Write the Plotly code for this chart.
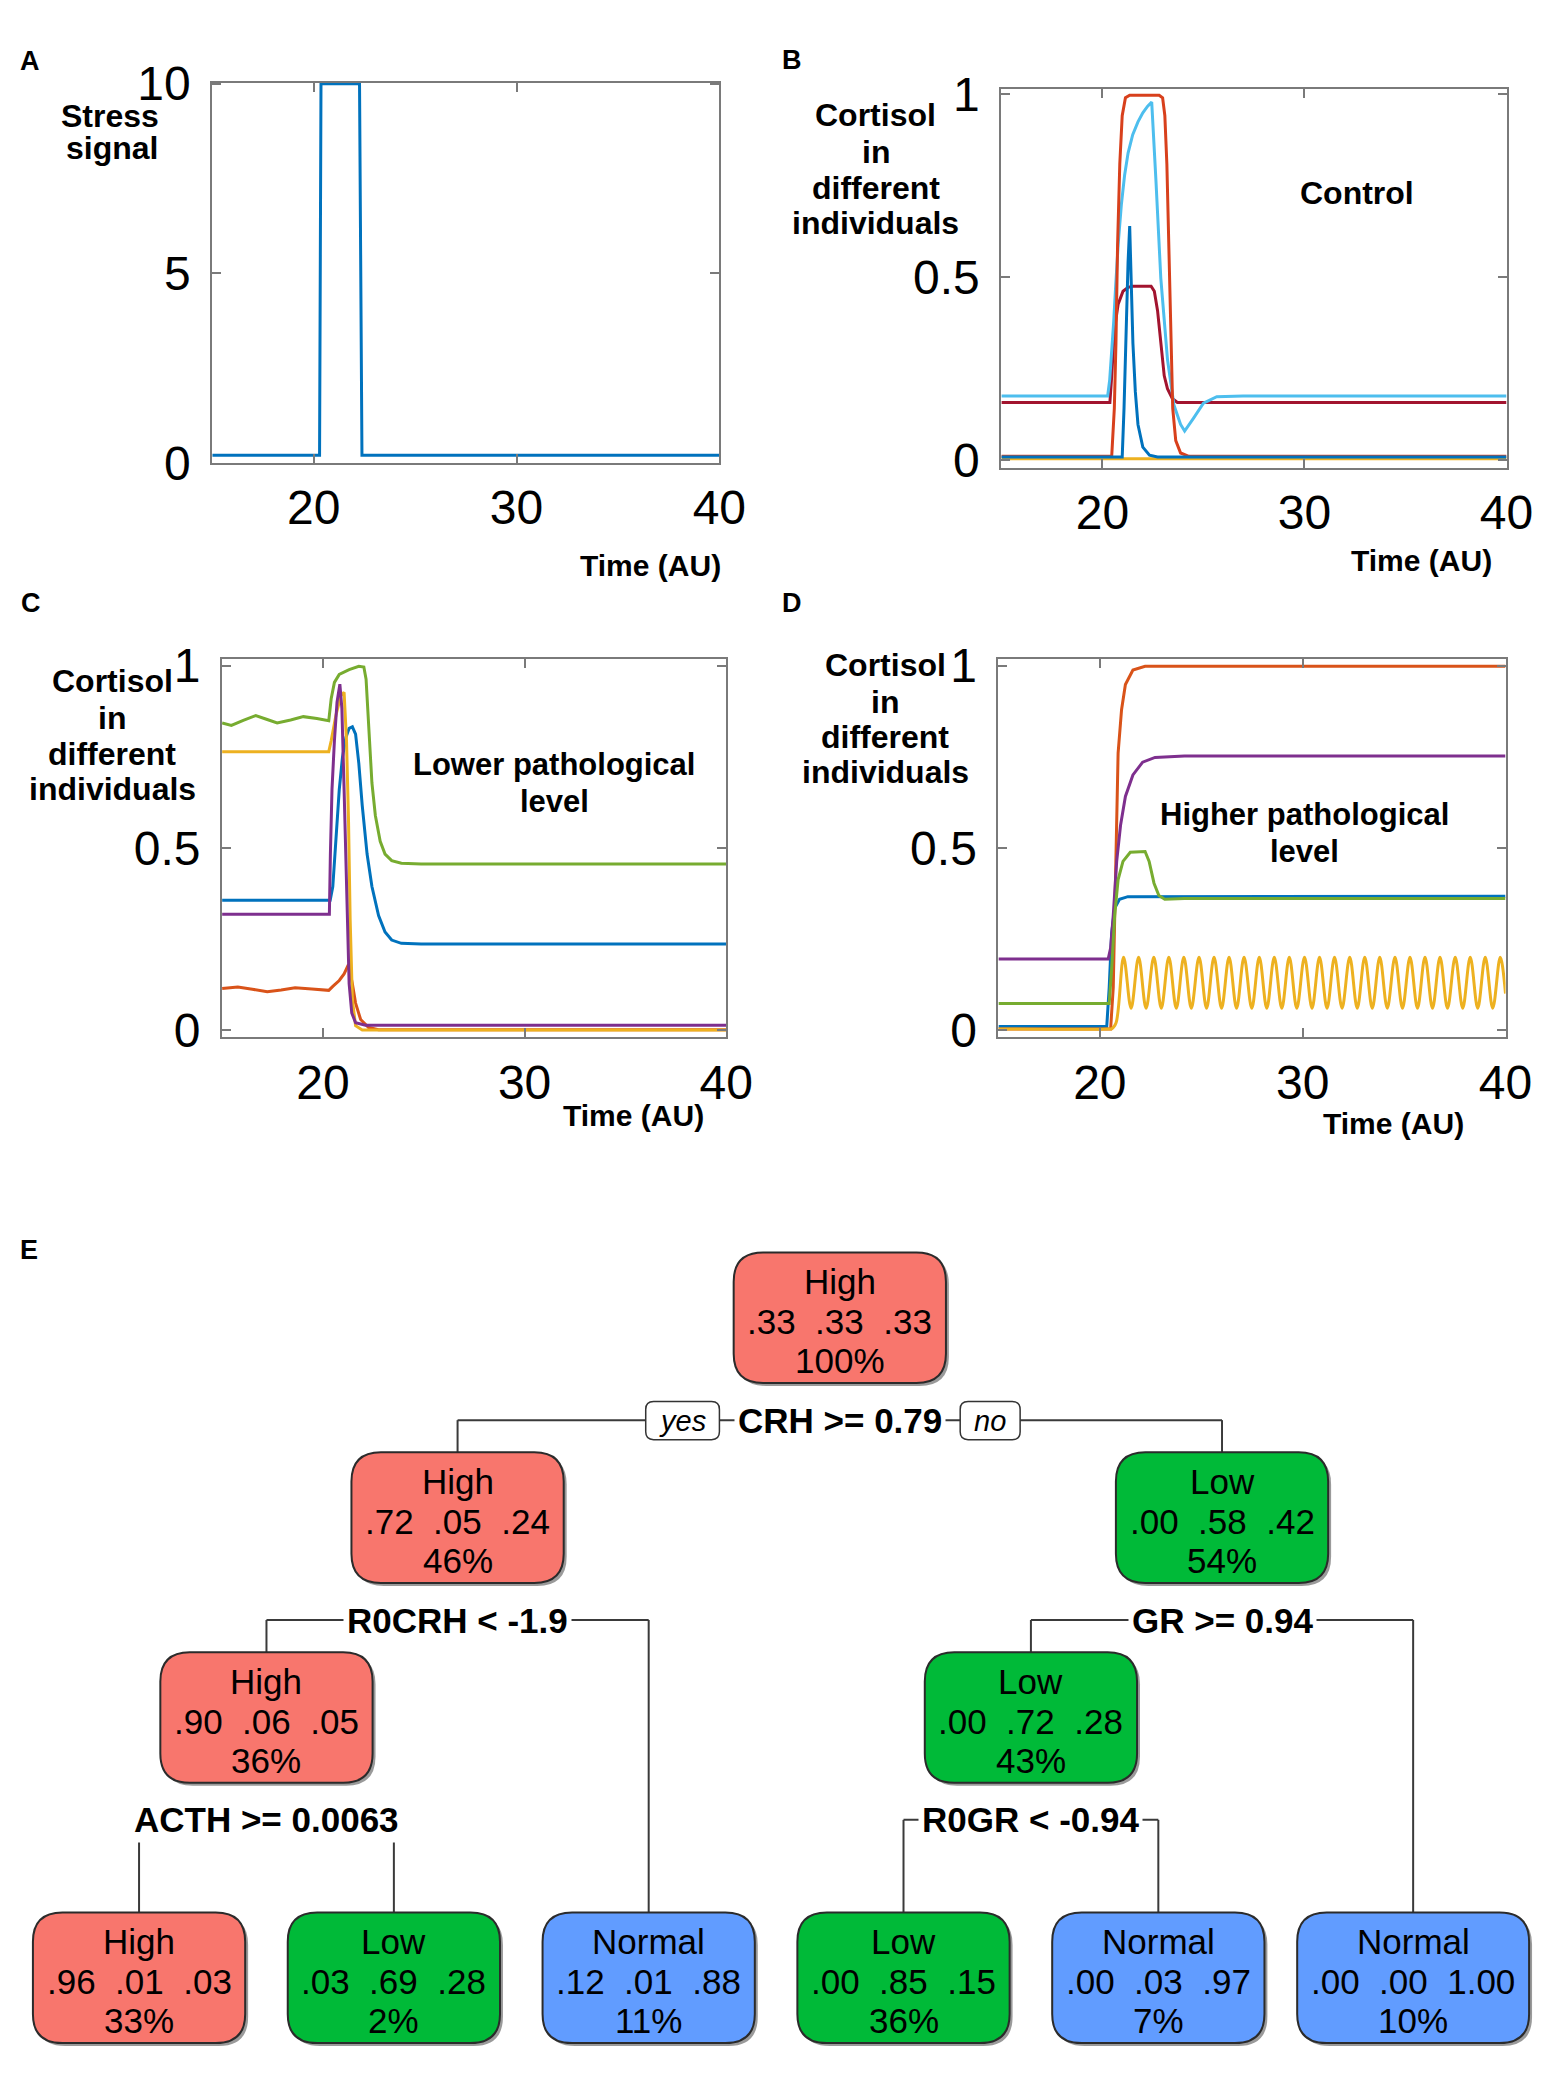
import plotly.graph_objects as go

W, H = 1562, 2075
FONT = "Liberation Sans, Arial, Helvetica, sans-serif"

# ---------------- data ----------------
time_ticks = [20, 30, 40]
a_ticks = [0, 5, 10]
c_ticks = [0, 0.5, 1]
c_ticklabels = ["0", "0.5", "1"]

# Panel A: stress signal
a_t = [15, 20.29, 20.36, 22.26, 22.38, 40]
a_stress = [0.2, 0.2, 10, 10, 0.2, 0.2]

# Panel B: control
b_darkred_t = [15, 20.37, 20.46, 20.59, 20.78, 21.02, 21.27, 21.51, 22.41, 22.57, 22.73, 22.89, 23.06, 23.22, 23.46, 23.71, 40]
b_darkred_v = [0.158, 0.158, 0.231, 0.356, 0.427, 0.462, 0.473, 0.476, 0.476, 0.462, 0.409, 0.32, 0.231, 0.196, 0.169, 0.158, 0.158]
b_cyan_t = [15, 20.26, 20.36, 20.46, 20.56, 20.66, 20.78, 20.94, 21.1, 21.27, 21.5, 21.76, 22.0, 22.24, 22.44,
            22.65, 22.89, 23.22, 23.54, 23.87, 24.07, 24.52, 25.0, 25.66, 26.96, 40]
b_cyan_v = [0.176, 0.176, 0.22, 0.29, 0.38, 0.48, 0.59, 0.70, 0.78, 0.84, 0.89, 0.925, 0.95, 0.968, 0.979,
            0.764, 0.498, 0.276, 0.151, 0.098, 0.080, 0.116, 0.156, 0.174, 0.176, 0.176]
b_red_t = [15, 20.46, 20.59, 20.67, 20.75, 20.86, 20.98, 21.14, 21.35, 22.81, 22.98, 23.09, 23.19, 23.28, 23.38, 23.48, 23.63, 23.87, 24.28, 40]
b_red_v = [0.011, 0.011, 0.142, 0.32, 0.587, 0.81, 0.942, 0.991, 0.998, 0.998, 0.991, 0.942, 0.81, 0.587, 0.32, 0.142, 0.054, 0.020, 0.011, 0.011]
b_yellow_t = [15, 40]
b_yellow_v = [0.004, 0.004]
b_blue_t = [15, 20.98, 21.07, 21.19, 21.27, 21.35, 21.43, 21.51, 21.63, 21.76, 22.0, 22.33, 22.73, 40]
b_blue_v = [0.009, 0.009, 0.142, 0.409, 0.542, 0.64, 0.498, 0.32, 0.187, 0.098, 0.036, 0.014, 0.009, 0.009]

# Panel C: lower pathological level
c_blue_t = [15, 20.36, 20.49, 20.65, 20.81, 20.97, 21.14, 21.30, 21.46, 21.62, 21.78, 21.95, 22.19, 22.43, 22.76, 23.08, 23.41, 23.89, 24.87, 40]
c_blue_v = [0.356, 0.356, 0.394, 0.527, 0.66, 0.749, 0.803, 0.828, 0.832, 0.812, 0.732, 0.616, 0.483, 0.394, 0.314, 0.269, 0.247, 0.238, 0.236, 0.236]
c_red_t = [15, 15.78, 16.5, 17.24, 17.93, 18.62, 19.45, 20.29, 20.49, 20.81, 21.05, 21.27, 21.46, 21.62, 21.87, 22.27, 22.76, 40]
c_red_v = [0.114, 0.118, 0.112, 0.105, 0.11, 0.116, 0.113, 0.109, 0.12, 0.136, 0.154, 0.18, 0.127, 0.074, 0.029, 0.007, 0.001, 0.001]
c_yellow_t = [15, 20.29, 20.41, 20.65, 20.89, 21.05, 21.17, 21.27, 21.35, 21.46, 21.62, 21.95, 40]
c_yellow_v = [0.764, 0.764, 0.794, 0.865, 0.918, 0.927, 0.794, 0.572, 0.305, 0.083, 0.012, 0.0, 0.0]
c_purple_t = [15, 20.32, 20.37, 20.45, 20.57, 20.70, 20.84, 20.94, 21.05, 21.14, 21.22, 21.30, 21.43, 21.62, 22.11, 40]
c_purple_v = [0.318, 0.318, 0.483, 0.66, 0.794, 0.9, 0.949, 0.883, 0.66, 0.438, 0.26, 0.127, 0.047, 0.02, 0.013, 0.013]
c_green_t = [15, 15.46, 16.05, 16.67, 17.2, 17.73, 18.4, 19.03, 19.7, 20.29, 20.41, 20.57, 20.81, 21.30, 21.78, 22.03, 22.14, 22.27, 22.43, 22.6, 22.84, 23.08, 23.41, 23.89, 24.87, 40]
c_green_v = [0.843, 0.836, 0.85, 0.863, 0.853, 0.843, 0.851, 0.86, 0.855, 0.849, 0.909, 0.954, 0.976, 0.989, 0.998, 0.996, 0.963, 0.838, 0.678, 0.589, 0.518, 0.483, 0.465, 0.458, 0.456, 0.456]

# Panel D: higher pathological level
d_blue_t = [15, 20.34, 20.46, 20.58, 20.73, 20.97, 21.38, 40]
d_blue_v = [0.01, 0.01, 0.116, 0.265, 0.334, 0.359, 0.366, 0.367]
d_red_t = [15, 20.53, 20.66, 20.78, 20.9, 21.07, 21.26, 21.63, 22.23, 40]
d_red_v = [0.003, 0.003, 0.116, 0.463, 0.76, 0.879, 0.948, 0.988, 0.998, 0.998]
d_purple_t = [15, 20.41, 20.53, 20.66, 20.83, 21.02, 21.26, 21.63, 22.11, 22.72, 24.17, 40]
d_purple_v = [0.195, 0.195, 0.225, 0.314, 0.463, 0.562, 0.641, 0.7, 0.735, 0.748, 0.752, 0.752]
d_green_t = [15, 20.46, 20.58, 20.73, 20.9, 21.14, 21.5, 22.23, 22.43, 22.67, 22.91, 23.2, 24.17, 40]
d_green_v = [0.073, 0.073, 0.166, 0.314, 0.413, 0.463, 0.488, 0.49, 0.463, 0.403, 0.369, 0.359, 0.361, 0.361]
d_yellow_t = [15, 20.4, 20.6, 20.8,
              21.17, 21.54, 21.91, 22.28, 22.66, 23.03, 23.40, 23.77, 24.14, 24.51,
              24.89, 25.26, 25.63, 26.00, 26.37, 26.74, 27.11, 27.49, 27.86, 28.23,
              28.60, 28.97, 29.34, 29.71, 30.09, 30.46, 30.83, 31.20, 31.57, 31.94,
              32.32, 32.69, 33.06, 33.43, 33.80, 34.17, 34.55, 34.92, 35.29, 35.66,
              36.03, 36.40, 36.77, 37.14, 37.52, 37.89, 38.26, 38.63, 39.00, 39.37,
              39.74, 40]
d_yellow_v = [0.003, 0.003, 0.004, 0.02,
              0.2, 0.06, 0.2, 0.06, 0.2, 0.06, 0.2, 0.06, 0.2, 0.06,
              0.2, 0.06, 0.2, 0.06, 0.2, 0.06, 0.2, 0.06, 0.2, 0.06,
              0.2, 0.06, 0.2, 0.06, 0.2, 0.06, 0.2, 0.06, 0.2, 0.06,
              0.2, 0.06, 0.2, 0.06, 0.2, 0.06, 0.2, 0.06, 0.2, 0.06,
              0.2, 0.06, 0.2, 0.06, 0.2, 0.06, 0.2, 0.06, 0.2, 0.06,
              0.2, 0.1]

# Panel E: decision tree
node_class = ["High", "High", "Low", "High", "Low", "High", "Low", "Normal", "Low", "Normal", "Normal"]
node_probs = [[.33, .33, .33], [.72, .05, .24], [.00, .58, .42], [.90, .06, .05], [.00, .72, .28],
              [.96, .01, .03], [.03, .69, .28], [.12, .01, .88], [.00, .85, .15], [.00, .03, .97], [.00, .00, 1.00]]
node_pct = [100, 46, 54, 36, 43, 33, 2, 11, 36, 7, 10]
split_text = {0: "CRH >= 0.79", 1: "R0CRH < -1.9", 2: "GR >= 0.94", 3: "ACTH >= 0.0063", 4: "R0GR < -0.94"}
children = {0: (1, 2), 1: (3, 7), 2: (4, 10), 3: (5, 6), 4: (8, 9)}
leaf_order = [5, 6, 7, 8, 9, 10]

# ---------------- styles ----------------
C_BLUE, C_RED, C_YEL, C_PUR, C_GRN, C_CYAN, C_DRED = "#0072BD", "#D95319", "#EDB120", "#7E2F8E", "#77AC30", "#4DBEEE", "#A2142F"
C_RED_B = "#D8401C"
class_color = {"High": "#F8766D", "Low": "#00BA38", "Normal": "#619CFF"}
LW = 3


def px(x):
    return x / W


def py(y):
    return 1 - y / H


fig = go.Figure()


def add_line(t, v, color, ax, shape="linear"):
    fig.add_trace(go.Scatter(x=t, y=v, mode="lines", line=dict(color=color, width=LW, shape=shape),
                             xaxis="x" + ax, yaxis="y" + ax, showlegend=False, hoverinfo="skip"))


add_line(a_t, a_stress, C_BLUE, "")

add_line(b_darkred_t, b_darkred_v, C_DRED, "2")
add_line(b_cyan_t, b_cyan_v, C_CYAN, "2")
add_line(b_red_t, b_red_v, C_RED_B, "2")
add_line(b_yellow_t, b_yellow_v, C_YEL, "2")
add_line(b_blue_t, b_blue_v, C_BLUE, "2")

add_line(c_blue_t, c_blue_v, C_BLUE, "3")
add_line(c_red_t, c_red_v, C_RED, "3")
add_line(c_yellow_t, c_yellow_v, C_YEL, "3")
add_line(c_purple_t, c_purple_v, C_PUR, "3")
add_line(c_green_t, c_green_v, C_GRN, "3")

add_line(d_blue_t, d_blue_v, C_BLUE, "4")
add_line(d_red_t, d_red_v, C_RED, "4")
add_line(d_purple_t, d_purple_v, C_PUR, "4")
add_line(d_green_t, d_green_v, C_GRN, "4")
add_line(d_yellow_t, d_yellow_v, C_YEL, "4", shape="spline")

AXC = "#7a7a7a"
common = dict(showgrid=False, zeroline=False, showline=True, linecolor=AXC, linewidth=2,
              mirror="ticks", ticks="inside", ticklen=9, tickwidth=1.5, tickcolor=AXC,
              tickfont=dict(family=FONT, size=48, color="black"), fixedrange=True)


def xaxis(x0, x1, anchor):
    return dict(common, domain=[px(x0), px(x1)], range=[15, 40], tickvals=time_ticks,
                ticktext=[str(t) for t in time_ticks], anchor=anchor, ticklabelstandoff=2)


def yaxis(top, bottom, rng, vals, texts, anchor):
    return dict(common, domain=[py(bottom), py(top)], range=rng, tickvals=vals, ticktext=texts,
                anchor=anchor, ticklabelstandoff=10)


fig.update_layout(
    width=W, height=H, margin=dict(l=0, r=0, t=0, b=0), autosize=False,
    paper_bgcolor="white", plot_bgcolor="white", showlegend=False,
    xaxis=xaxis(216, 732, "y"),
    yaxis=yaxis(59, 449, [0, 10.03], a_ticks, [str(t) for t in a_ticks], "x"),
    xaxis2=xaxis(1019, 1533, "y2"),
    yaxis2=yaxis(66, 454, [-0.02, 1.014], c_ticks, c_ticklabels, "x2"),
    xaxis3=xaxis(226, 739, "y3"),
    yaxis3=yaxis(650, 1038, [-0.019, 1.019], c_ticks, c_ticklabels, "x3"),
    xaxis4=xaxis(1016, 1532, "y4"),
    yaxis4=yaxis(650, 1038, [-0.019, 1.019], c_ticks, c_ticklabels, "x4"),
)


def txt(x, y, s, size, xanchor="center", yanchor="middle", bg=None, pad=1):
    fig.add_annotation(x=px(x), y=py(y), xref="paper", yref="paper", text=s, showarrow=False,
                       font=dict(family=FONT, size=size, color="black"), xanchor=xanchor, yanchor=yanchor,
                       bgcolor=bg, borderpad=pad)


# panel letters
for letter, lx, ly in [("A", 31, 37), ("B", 806, 36), ("C", 32, 593), ("D", 806, 593), ("E", 30, 1256)]:
    txt(lx, ly, "<b>%s</b>" % letter, 27)

# y labels
txt(112, 93, "<b>Stress</b>", 32)
txt(114, 126, "<b>signal</b>", 32)
for (cx, ys) in [(891, [92, 130, 167, 203]), (114, [673, 711, 748, 784]), (901, [656, 694, 730, 766])]:
    for word, yy in zip(["Cortisol", "in", "different", "individuals"], ys):
        txt(cx, yy, "<b>%s</b>" % word, 32)

txt(1381, 172, "<b>Control</b>", 32)
txt(564, 758, "<b>Lower pathological</b>", 31)
txt(564, 796, "<b>level</b>", 31)
txt(1327, 810, "<b>Higher pathological</b>", 31)
txt(1327, 848, "<b>level</b>", 31)

for tx, ty in [(662, 554), (1446, 549), (645, 1119), (1418, 1127)]:
    txt(tx, ty, "<b>Time (AU)</b>", 30)

# ---------------- tree ----------------
shapes = []


def rrect(x0, y0, x1, y1, r):
    pts = [
        ("M", [(x0 + r, y0)]), ("L", [(x1 - r, y0)]), ("Q", [(x1, y0), (x1, y0 + r)]),
        ("L", [(x1, y1 - r)]), ("Q", [(x1, y1), (x1 - r, y1)]), ("L", [(x0 + r, y1)]),
        ("Q", [(x0, y1), (x0, y1 - r)]), ("L", [(x0, y0 + r)]), ("Q", [(x0, y0), (x0 + r, y0)]),
    ]
    s = ""
    for cmd, pp in pts:
        s += cmd + " " + " ".join("%.6f,%.6f" % (px(a), py(b)) for a, b in pp) + " "
    return s + "Z"


depth = {0: 0, 1: 1, 2: 1, 3: 2, 4: 2}
level_top = {0: 1259, 1: 1464, 2: 1669}
LEAF_TOP = 1936
BOX_H = 134
leaf_x0, leaf_dx = 141.5, 259.3

node_x = {}
for i, n in enumerate(leaf_order):
    node_x[n] = leaf_x0 + i * leaf_dx


def getx(n):
    if n not in node_x:
        l, r = children[n]
        node_x[n] = (getx(l) + getx(r)) / 2
    return node_x[n]


def top_of(n):
    return level_top[depth[n]] if n in depth else LEAF_TOP


LINE_C = "#3a3a3a"
for n, (l, r) in children.items():
    sy = top_of(n) + BOX_H + 38
    lx, rx = getx(l), getx(r)
    shapes.append(dict(type="line", xref="paper", yref="paper", x0=px(lx), y0=py(sy), x1=px(rx), y1=py(sy),
                       line=dict(color=LINE_C, width=2)))
    shapes.append(dict(type="line", xref="paper", yref="paper", x0=px(lx), y0=py(sy), x1=px(lx), y1=py(top_of(l)),
                       line=dict(color=LINE_C, width=2)))
    shapes.append(dict(type="line", xref="paper", yref="paper", x0=px(rx), y0=py(sy), x1=px(rx), y1=py(top_of(r)),
                       line=dict(color=LINE_C, width=2)))
    txt(getx(n), sy, "<b>%s</b>" % split_text[n], 35, bg="white", pad=3)
    if n == 0:
        cx = getx(n)
        for lab, off, bw in [("yes", -160, 75), ("no", 153, 61)]:
            bx = cx + off
            shapes.append(dict(type="path", xref="paper", yref="paper",
                               path=rrect(bx - bw / 2, sy - 19, bx + bw / 2, sy + 20, 8),
                               fillcolor="white", line=dict(color="#333333", width=1.5)))
            txt(bx, sy + 1, "<i>%s</i>" % lab, 29)


def fmt(p):
    s = "%.2f" % p
    return s[1:] if s.startswith("0") else s


for n in range(len(node_class)):
    cx = getx(n)
    t0 = top_of(n)
    ptxt = "\u00a0\u00a0".join(fmt(p) for p in node_probs[n])
    bw = 216 if max(node_probs[n]) < 1 else 236
    shapes.append(dict(type="path", xref="paper", yref="paper",
                       path=rrect(cx - bw / 2 + 3, t0 + 3, cx + bw / 2 + 3, t0 + BOX_H + 3, 30),
                       fillcolor="#9a9a9a", line=dict(width=0)))
    shapes.append(dict(type="path", xref="paper", yref="paper",
                       path=rrect(cx - bw / 2, t0, cx + bw / 2, t0 + BOX_H, 30),
                       fillcolor=class_color[node_class[n]], line=dict(color="#2b2b2b", width=2)))
    txt(cx, t0 + 30, node_class[n], 35)
    txt(cx, t0 + 71, ptxt, 35)
    txt(cx, t0 + 111, "%d%%" % node_pct[n], 35)

fig.update_layout(shapes=shapes)

fig.write_html("out.html", config={"displayModeBar": False},
               post_script="document.body.style.margin='0px';")
